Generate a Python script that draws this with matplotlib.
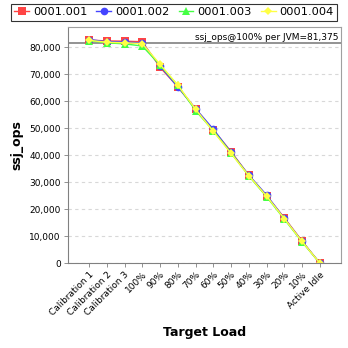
import matplotlib
matplotlib.use("Agg")
import matplotlib.pyplot as plt
import numpy as np

# Target load levels (x categories)
LOADS = ["Calibration 1", "Calibration 2", "Calibration 3", "100%", "90%", "80%",
         "70%", "60%", "50%", "40%", "30%", "20%", "10%", "Active Idle"]

# ssj_ops per JVM
JVM_001 = [82600, 82300, 82200, 82000, 72500, 65300, 57100, 49300, 41300, 32500, 24900, 16800, 8200, 0]
JVM_002 = [82800, 82000, 81900, 81500, 73000, 65200, 57200, 49600, 41000, 32600, 25200, 16600, 8100, 0]
JVM_003 = [82400, 81600, 81200, 80400, 73300, 65800, 56500, 49000, 40800, 32300, 24600, 16300, 7900, 0]
JVM_004 = [82500, 81800, 81600, 81300, 73600, 65900, 57000, 48800, 40600, 32400, 24800, 16500, 8000, 0]

SERIES_NAMES = ["0001.001", "0001.002", "0001.003", "0001.004"]
REF_100 = 81375

colors = ["#FF4444", "#4444FF", "#44FF44", "#FFFF44"]
markers = ["s", "o", "^", "D"]
msizes = [5.5, 5.5, 5.5, 4.5]

fig = plt.figure(figsize=(3.48, 3.48), dpi=100)
ax = fig.add_axes([0.195, 0.244, 0.785, 0.678])

x = np.arange(len(LOADS))
handles = []
for name, vals, c, m, ms in zip(SERIES_NAMES, [JVM_001, JVM_002, JVM_003, JVM_004],
                                colors, markers, msizes):
    h, = ax.plot(x, vals, color=c, marker=m, markersize=ms, linewidth=1.0,
                 markeredgewidth=0, label=name)
    handles.append(h)

ax.axhline(REF_100, color="#808080", linewidth=1.2, zorder=1)
ax.text(0.99, 0.975, "ssj_ops@100% per JVM=81,375", transform=ax.transAxes,
        ha="right", va="top", fontsize=6.5)

ax.set_xlim(-1.2, len(LOADS) - 1 + 1.2)
ax.set_ylim(0, 87400)
ax.set_yticks(np.arange(0, 80001, 10000))
ax.set_yticklabels([f"{v:,}" for v in range(0, 80001, 10000)], fontsize=6.5)
ax.set_xticks(x)
ax.set_xticklabels(LOADS, rotation=45, ha="right", rotation_mode="anchor", fontsize=6.5)
ax.yaxis.grid(True, color="#D8D8D8", linestyle=(0, (3, 3)), linewidth=0.8)
ax.set_axisbelow(True)
ax.tick_params(axis="both", length=3, width=0.6, color="#808080", pad=2)

for s in ax.spines.values():
    s.set_color("#A0A0A0")
    s.set_linewidth(0.8)
ax.spines["left"].set_color("#808080")
ax.spines["bottom"].set_color("#808080")

ax.set_ylabel("ssj_ops", fontsize=9, fontweight="bold", labelpad=4)
ax.set_xlabel("Target Load", fontsize=9, fontweight="bold", labelpad=6)

leg = fig.legend(handles=handles, loc="upper center", bbox_to_anchor=(0.5, 0.992),
                 ncol=4, fontsize=8.2, frameon=True, fancybox=False,
                 handlelength=1.3, handletextpad=0.35, columnspacing=0.8,
                 borderpad=0.3, borderaxespad=0.1)
leg.get_frame().set_edgecolor("black")
leg.get_frame().set_linewidth(0.8)

fig.savefig("out.png", dpi=100)
